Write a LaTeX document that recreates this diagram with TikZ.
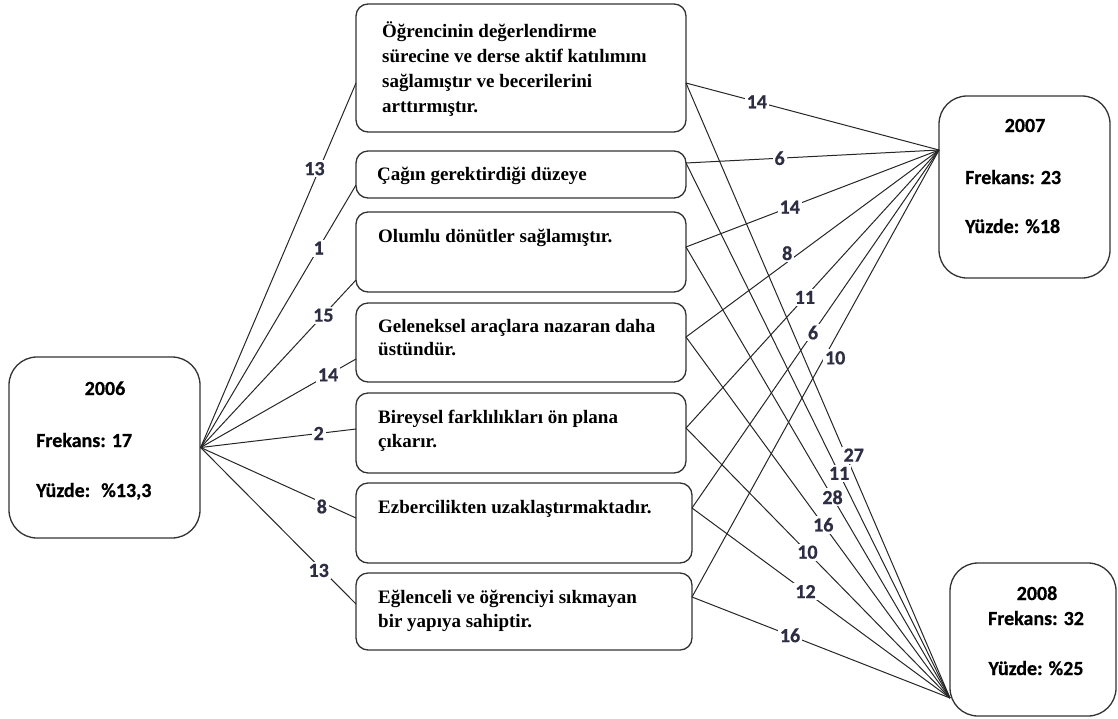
\documentclass[tikz,border=0pt]{standalone}
\usepackage{fontspec}
\setmainfont{Liberation Serif}
\newfontfamily\calib[BoldFeatures={FakeBold=0.6}]{Carlito}
\definecolor{numc}{RGB}{45,45,70}
\definecolor{edge}{RGB}{50,50,50}
\begin{document}
\begin{tikzpicture}[x=1pt,y=1pt,
  mbox/.style={draw=edge, line width=1.3pt, rounded corners=12pt, inner sep=0pt},
  ybox/.style={draw=edge, line width=1.3pt, rounded corners=28pt, inner sep=0pt},
  mtxt/.style={anchor=base west, inner sep=0pt, font=\fontsize{19}{25}\selectfont\bfseries},
  ytxt/.style={inner sep=0pt, font=\calib\fontsize{20}{24}\selectfont\bfseries},
  conn/.style={draw=black!85, line width=1pt},
  lbl/.style={fill=white, inner sep=2pt, text=numc, font=\calib\fontsize{20}{24}\selectfont\bfseries},
]
\useasboundingbox (0,0) rectangle (1118,-718);

% year boxes
\node[ybox, minimum width=191, minimum height=181] (y06) at (104.5,-447.5) {};
\node[ybox, minimum width=171, minimum height=182] (y07) at (1024.5,-187) {};
\node[ybox, minimum width=166, minimum height=153] (y08) at (1033,-639.5) {};

\node[ytxt, anchor=base] (t06a) at (105,-395) {2006};
\node[ytxt, anchor=base west] (t06b) at (36,-447) {Frekans: 17};
\node[ytxt, anchor=base west] (t06c) at (36,-497) {Yüzde:\hspace{5pt} \%13,3};

\node[ytxt, anchor=base] (t07a) at (1025,-132) {2007};
\node[ytxt, anchor=base west] (t07b) at (965,-184) {Frekans: 23};
\node[ytxt, anchor=base west] (t07c) at (965,-233) {Yüzde: \%18};

\node[ytxt, anchor=base] (t08a) at (1037,-600) {2008};
\node[ytxt, anchor=base] (t08b) at (1036,-625) {Frekans: 32};
\node[ytxt, anchor=base] (t08c) at (1036,-675) {Yüzde: \%25};

% middle boxes
\node[mbox, minimum width=330, minimum height=128] (b1) at (521,-68) {};
\node[mbox, minimum width=330, minimum height=47]  (b2) at (521,-174.5) {};
\node[mbox, minimum width=330, minimum height=80]  (b3) at (521,-252) {};
\node[mbox, minimum width=330, minimum height=79]  (b4) at (521,-342.5) {};
\node[mbox, minimum width=330, minimum height=80]  (b5) at (521,-433) {};
\node[mbox, minimum width=336, minimum height=80]  (b6) at (524,-523) {};
\node[mbox, minimum width=336, minimum height=77]  (b7) at (524,-611.5) {};

\node[mtxt] (x1a) at (382,-37) {Öğrencinin değerlendirme};
\node[mtxt] (x1b) at (382,-62) {sürecine ve derse aktif katılımını};
\node[mtxt] (x1c) at (382,-87) {sağlamıştır ve becerilerini};
\node[mtxt] (x1d) at (382,-112) {arttırmıştır.};
\node[mtxt] (x2) at (377,-180) {Çağın gerektirdiği düzeye};
\node[mtxt] (x3) at (378,-242) {Olumlu dönütler sağlamıştır.};
\node[mtxt] (x4a) at (378,-332) {Geleneksel araçlara nazaran daha};
\node[mtxt] (x4b) at (378,-355) {üstündür.};
\node[mtxt] (x5a) at (378,-423) {Bireysel farklılıkları ön plana};
\node[mtxt] (x5b) at (378,-447) {çıkarır.};
\node[mtxt] (x6) at (378,-513) {Ezbercilikten uzaklaştırmaktadır.};
\node[mtxt] (x7a) at (378,-603) {Eğlenceli ve öğrenciyi sıkmayan};
\node[mtxt] (x7b) at (378,-627) {bir yapıya sahiptir.};

% attachment points
\coordinate (h07) at (939,-150);
\coordinate (h08) at (950,-698);
\coordinate (l1) at (356,-83);
\coordinate (l2) at (356,-185);
\coordinate (l3) at (356,-280);
\coordinate (l4) at (356,-359);
\coordinate (l5) at (356,-429);
\coordinate (l6) at (356,-518);
\coordinate (l7) at (356,-604);
\coordinate (r1) at (686,-83);
\coordinate (r2) at (686,-163);
\coordinate (r3) at (686,-247);
\coordinate (r4) at (686,-337);
\coordinate (r5) at (686,-428);
\coordinate (r6) at (692,-508);
\coordinate (r7) at (692,-597);

% 2006 connectors
\draw[conn] (y06.east) -- node[lbl, pos=0.765, xshift=-5] (n01) {13} (l1);
\draw[conn] (y06.east) -- node[lbl, pos=0.76] (n02) {1} (l2);
\draw[conn] (y06.east) -- node[lbl, pos=0.79] (n03) {15} (l3);
\draw[conn] (y06.east) -- node[lbl, pos=0.82] (n04) {14} (l4);
\draw[conn] (y06.east) -- node[lbl, pos=0.76] (n05) {2} (l5);
\draw[conn] (y06.east) -- node[lbl, pos=0.78, yshift=-4] (n06) {8} (l6);
\draw[conn] (y06.east) -- node[lbl, pos=0.76, yshift=-4] (n07) {13} (l7);

% 2007 connectors
\draw[conn] (r1) -- node[lbl, pos=0.28] (m01) {14} (h07);
\draw[conn] (r2) -- node[lbl, pos=0.37] (m02) {6} (h07);
\draw[conn] (r3) -- node[lbl, pos=0.41] (m03) {14} (h07);
\draw[conn] (r4) -- node[lbl, pos=0.40, yshift=9] (m04) {8} (h07);
\draw[conn] (r5) -- node[lbl, pos=0.47] (m05) {11} (h07);
\draw[conn] (r6) -- node[lbl, pos=0.49] (m06) {6} (h07);
\draw[conn] (r7) -- node[lbl, pos=0.535, xshift=11] (m07) {10} (h07);

% 2008 connectors
\draw[conn] (r1) -- node[lbl, pos=0.605, xshift=8] (k01) {27} (h08);
\draw[conn] (r2) -- node[lbl, pos=0.58] (k02) {11} (h08);
\draw[conn] (r3) -- node[lbl, pos=0.555] (k03) {28} (h08);
\draw[conn] (r4) -- node[lbl, pos=0.52] (k04) {16} (h08);
\draw[conn] (r5) -- node[lbl, pos=0.46] (k05) {10} (h08);
\draw[conn] (r6) -- node[lbl, pos=0.44] (k06) {12} (h08);
\draw[conn] (r7) -- node[lbl, pos=0.38] (k07) {16} (h08);
\end{tikzpicture}
\end{document}
